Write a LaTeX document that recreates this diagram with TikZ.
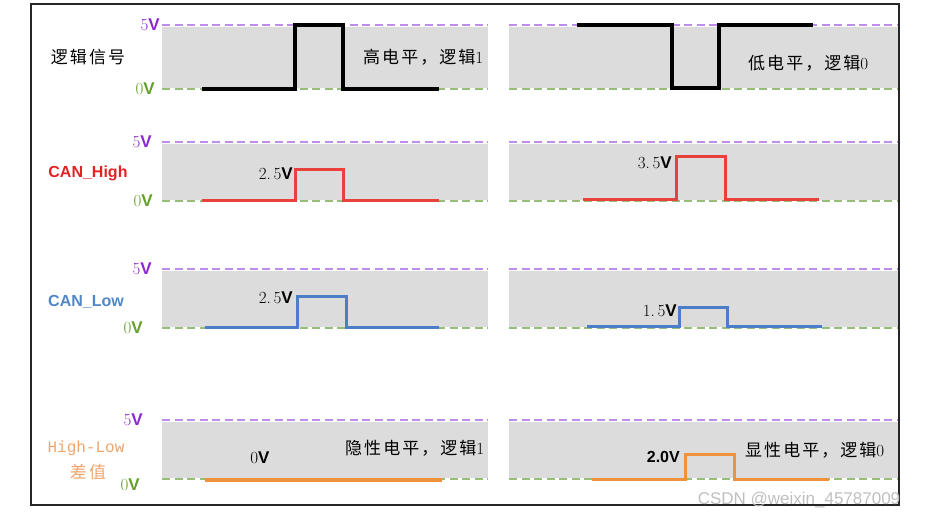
\documentclass[tikz,border=0pt]{standalone}
\usepackage{fontspec}
\setsansfont{Liberation Sans}
\setmonofont{Liberation Mono}
\newfontfamily\cjk[LetterSpace=12]{Noto Sans CJK SC}
\definecolor{bandgray}{RGB}{220,220,220}
\definecolor{fivepurple}{RGB}{140,40,210}
\definecolor{fivedash}{RGB}{190,140,235}
\definecolor{zerogreen}{RGB}{100,160,40}
\definecolor{zerodash}{RGB}{150,190,120}
\definecolor{canred}{RGB}{232,65,60}
\definecolor{canredtxt}{RGB}{225,35,35}
\definecolor{canblue}{RGB}{75,125,200}
\definecolor{canbluetxt}{RGB}{80,135,200}
\definecolor{difforange}{RGB}{240,145,60}
\definecolor{difflabel}{RGB}{240,165,110}
\newcommand{\voltV}{{\sffamily\bfseries V}}

\begin{document}
\begin{tikzpicture}[x=1pt,y=-1pt,
  fiveline/.style={draw=fivedash,line width=2.8pt,dash pattern=on 8pt off 4.5pt},
  zeroline/.style={draw=zerodash,line width=2.8pt,dash pattern=on 8pt off 4.5pt},
  lvl/.style={font=\fontsize{17}{20}\selectfont,inner sep=0pt,anchor=east},
  five/.style={lvl,text=fivepurple},
  zero/.style={lvl,text=zerogreen},
  wave/.style={line width=3pt,line join=miter},
  note/.style={font=\fontsize{17}{20}\selectfont,inner sep=0pt,anchor=west},
  volt/.style={font=\fontsize{17}{20}\selectfont,inner sep=0pt,anchor=east},
  head/.style={font=\fontsize{16}{19}\selectfont\sffamily\bfseries,inner sep=0pt}
]
\useasboundingbox (0,0) rectangle (929,518);
\draw[line width=1.3pt,draw=black!85] (31,4) rectangle (899,505);

% grey bands with 5V / 0V dashed levels
\foreach \hi/\lo in {25/89,142/201,269/328,420/479}{
  \fill[bandgray] (162,\hi+2) rectangle (488,\lo-1);
  \fill[bandgray] (509,\hi+2) rectangle (898,\lo-1);
  \draw[fiveline] (162,\hi) -- (488,\hi);
  \draw[fiveline] (509,\hi) -- (898,\hi);
  \draw[zeroline] (162,\lo) -- (488,\lo);
  \draw[zeroline] (509,\lo) -- (898,\lo);
}

% level labels
\node[five] (v5a) at (160,25) {5\voltV};
\node[zero] (v0a) at (155,89) {0\voltV};
\node[five] (v5b) at (152,142) {5\voltV};
\node[zero] (v0b) at (153,201) {0\voltV};
\node[five] (v5c) at (152,269) {5\voltV};
\node[zero] (v0c) at (143,328) {0\voltV};
\node[five] (v5d) at (143,420) {5\voltV};
\node[zero] (v0d) at (140,485) {0\voltV};

% row titles
\node[font=\fontsize{17}{20}\selectfont\cjk,inner sep=0pt] (logic) at (88,57) {逻辑信号};
\node[head,text=canredtxt] (canh) at (88,173) {CAN\_High};
\node[head,text=canbluetxt] (canl) at (86,302) {CAN\_Low};
\node[font=\fontsize{16}{19}\selectfont\ttfamily,text=difflabel,inner sep=0pt] (diff) at (86,448) {High-Low};
\node[font=\fontsize{17}{20}\selectfont\cjk,text=difflabel,inner sep=0pt] (diffcn) at (88,472) {差值};

% logic signal
\draw[wave,black,line width=3.4pt] (202,89) -- (295,89) -- (295,25) -- (343,25) -- (343,89) -- (439,89);
\draw[wave,black,line width=3.4pt] (577,25) -- (672,25) -- (672,88) -- (719,88) -- (719,25) -- (813,25);
\node[note] (one) at (363,57) {{\cjk 高电平，逻辑}1};
\node[note] (zero) at (748,63) {{\cjk 低电平，逻辑}0};

% CAN_High
\draw[wave,canred] (202,201) -- (295,201) -- (295,170) -- (343,170) -- (343,201) -- (439,201);
\draw[wave,canred] (583,200) -- (676,200) -- (676,157) -- (725,157) -- (725,200) -- (819,200);
\node[volt] (h25) at (293,174) {2.\,5\voltV};
\node[volt] (h35) at (672,163) {3.\,5\voltV};

% CAN_Low
\draw[wave,canblue] (205,328) -- (297,328) -- (297,297) -- (346,297) -- (346,328) -- (439,328);
\draw[wave,canblue] (587,327) -- (679,327) -- (679,308) -- (727,308) -- (727,327) -- (822,327);
\node[volt] (l25) at (293,298) {2.\,5\voltV};
\node[volt] (l15) at (677,311) {1.\,5\voltV};

% High-Low difference
\draw[line width=4pt,difforange] (205,480) -- (442,480);
\draw[wave,difforange] (592,479) -- (685,479) -- (685,454) -- (734,454) -- (734,479) -- (829,479);
\node[font=\fontsize{17}{20}\selectfont,inner sep=0pt] (d0) at (260,458) {0\voltV};
\node[volt,font=\fontsize{16}{19}\selectfont\sffamily\bfseries] (d20) at (680,457) {2.0V};
\node[note] (rec) at (345,448) {{\cjk 隐性电平，逻辑}1};
\node[note] (dom) at (745,450) {{\cjk 显性电平，逻辑}0};

\node[font=\fontsize{17}{20}\selectfont\sffamily,text=black!25,inner sep=0pt] (mark) at (799,500) {CSDN @weixin\_45787009};
\end{tikzpicture}
\end{document}
